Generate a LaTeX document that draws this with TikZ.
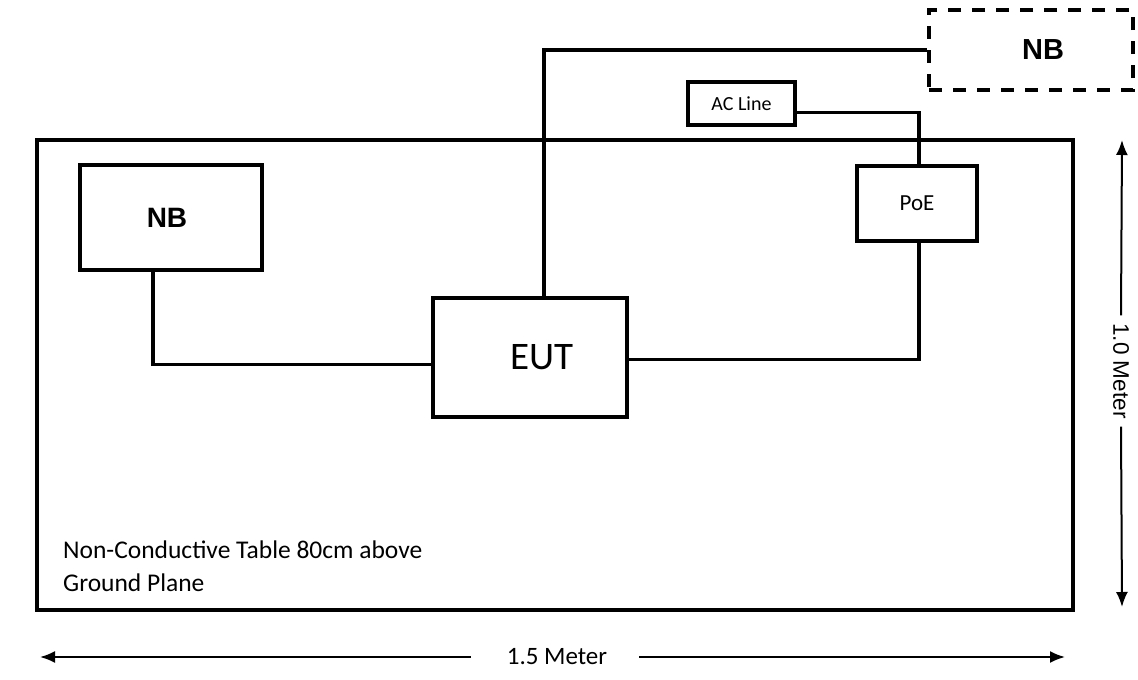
\documentclass[tikz,border=0pt]{standalone}
\usepackage{fontspec}
\setmainfont{Carlito}
\newfontfamily\arialf{Liberation Sans}
\usetikzlibrary{arrows.meta}
\tikzset{
  box/.style={draw=black, line width=4pt, rectangle, inner sep=0pt},
  dbox/.style={box, dash pattern=on 13pt off 11pt},
  conn/.style={draw=black, line width=3.5pt},
  dim/.style={draw=black, line width=2pt, -{Latex[length=15pt,width=12pt]}},
  dimlbl/.style={inner sep=6pt, fill=none}
}
\begin{document}
\begin{tikzpicture}[x=1pt,y=-1pt]
\useasboundingbox (0,0) rectangle (1138,680);
% table
\node[box, minimum width=1036pt, minimum height=470pt] (table) at (555,375) {};
\node[anchor=west, align=left, inner sep=0pt, font=\fontsize{25.5}{33}\selectfont] (tabletext) at (63,566)
  {Non-Conductive Table 80cm above\\Ground Plane};
% devices
\node[box, minimum width=182pt, minimum height=105pt] (nb1) at (171,217.5)
  {\arialf\bfseries\fontsize{28}{30}\selectfont NB\hspace*{8pt}};
\node[box, minimum width=194pt, minimum height=119pt] (eut) at (530,357.5)
  {\hspace*{24pt}\fontsize{39}{40}\selectfont EUT};
\node[box, minimum width=120pt, minimum height=75pt] (poe) at (917,203.5)
  {\fontsize{23}{24}\selectfont PoE};
\node[box, minimum width=107pt, minimum height=43pt] (acl) at (741.5,103.5)
  {\fontsize{20}{21}\selectfont AC Line};
\node[dbox, minimum width=204pt, minimum height=80pt] (nb2) at (1031,50)
  {\hspace*{24pt}\arialf\bfseries\fontsize{29}{30}\selectfont NB};
% connectors
\draw[conn] ([xshift=-18pt]nb1.south) |- ([yshift=-7pt]eut.west);
\draw[conn] ([xshift=14pt]eut.north) |- (nb2.west);
\draw[conn] ([yshift=-2pt]eut.east) -| ([xshift=2pt]poe.south);
\draw[conn] ([xshift=2pt]poe.north) |- ([yshift=-9pt]acl.east);
% dimensions
\coordinate (hl) at (40,657);
\coordinate (hr) at (1065,657);
\node[dimlbl] (hlbl) at (557,657) {\fontsize{25}{26}\selectfont 1.5 Meter};
\draw[dim] (hlbl.west) ++(-30pt,0) -- (hl);
\draw[dim] (hlbl.east) ++(26pt,0) -- (hr);
\coordinate (vt) at (1122,140);
\coordinate (vb) at (1122,607);
\node[dimlbl, rotate=-90, inner sep=8pt] (vlbl) at (1121,371) {\arialf\fontsize{22.5}{24}\selectfont 1.0 Meter};
\draw[dim] (vlbl.west) -- (vt);
\draw[dim] (vlbl.east) -- (vb);
\end{tikzpicture}
\end{document}
